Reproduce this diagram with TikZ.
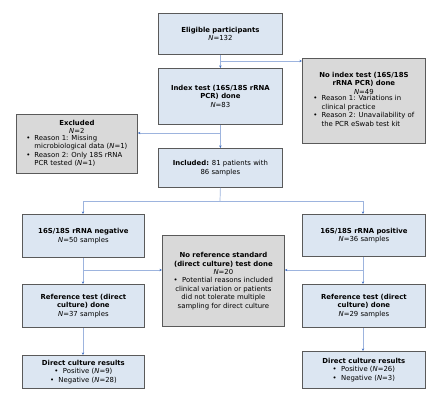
\documentclass[tikz,border=0pt]{standalone}
\usepackage{fontspec}
\setmainfont{DejaVu Sans}
\usetikzlibrary{arrows.meta}
\definecolor{bluefill}{HTML}{DCE6F2}
\definecolor{greyfill}{HTML}{D9D9D9}
\definecolor{boxline}{HTML}{5A5A5A}
\definecolor{conn}{HTML}{9DB4DE}
\definecolor{tipc}{HTML}{4472C4}
\newcommand{\fs}{\fontsize{6.9}{8.4}\selectfont}
\newcommand{\Nv}{\textit{N}}
\begin{document}
\begin{tikzpicture}[x=1pt,y=-1pt,
  box/.style={draw=boxline, line width=0.8pt, inner sep=0pt, align=center, font=\fs, anchor=north west},
  bluebox/.style={box, fill=bluefill},
  greybox/.style={box, fill=greyfill},
  conline/.style={draw=conn, line width=0.7pt},
  arr/.style={conline, -{Stealth[length=2.6pt,width=2.4pt,color=tipc]}}]
\useasboundingbox (0,0) rectangle (440,405);
\fill[white] (0,0) rectangle (440,405);

\node[bluebox, minimum width=124pt, minimum height=41pt] (elig) at (158,13)
  {\textbf{Eligible participants}\\ \Nv=132};
\node[bluebox, minimum width=124pt, minimum height=56pt] (index) at (158,68)
  {\textbf{Index test (16S/18S rRNA}\\ \textbf{PCR) done}\\ \Nv=83};
\node[greybox, minimum width=123pt, minimum height=85pt, text depth=16pt] (noidx) at (302,58)
  {\textbf{No index test (16S/18S}\\ \textbf{rRNA PCR) done}\\ \Nv=49\\[-0.2pt]
   \begin{tabular}{@{}l@{\hspace{4pt}}l@{}}
   • & Reason 1: Variations in\\
     & clinical practice\\
   • & Reason 2: Unavailability of\\
     & the PCR eSwab test kit
   \end{tabular}};
\node[greybox, minimum width=121pt, minimum height=59pt] (excl) at (16,114)
  {\textbf{Excluded}\\ \Nv=2\\[-0.2pt]
   \begin{tabular}{@{}l@{\hspace{4pt}}l@{}}
   • & Reason 1: Missing\\
     & microbiological data (\Nv=1)\\
   • & Reason 2: Only 18S rRNA\\
     & PCR tested (\Nv=1)
   \end{tabular}};
\node[bluebox, minimum width=124pt, minimum height=39pt] (incl) at (158,148)
  {\textbf{Included:} 81 patients with\\ 86 samples};
\node[bluebox, minimum width=122pt, minimum height=43pt] (neg) at (22,214)
  {\textbf{16S/18S rRNA negative}\\ \Nv=50 samples};
\node[bluebox, minimum width=123pt, minimum height=42pt] (pos) at (302,214)
  {\textbf{16S/18S rRNA positive}\\ \Nv=36 samples};
\node[greybox, minimum width=122pt, minimum height=91pt] (mid) at (162,235)
  {\textbf{No reference standard}\\ \textbf{(direct culture) test done}\\ \Nv=20\\
   • \ Potential reasons included\\ clinical variation or patients\\
   did not tolerate multiple\\ sampling for direct culture};
\node[bluebox, minimum width=122pt, minimum height=43pt] (refl) at (22,284)
  {\textbf{Reference test (direct}\\ \textbf{culture) done}\\ \Nv=37 samples};
\node[bluebox, minimum width=123pt, minimum height=43pt] (refr) at (302,284)
  {\textbf{Reference test (direct}\\ \textbf{culture) done}\\ \Nv=29 samples};
\node[bluebox, minimum width=122pt, minimum height=33pt] (resl) at (22,355)
  {\textbf{Direct culture results}\\ • \ Positive (\Nv=9)\\ • \ Negative (\Nv=28)};
\node[bluebox, minimum width=123pt, minimum height=37pt] (resr) at (302,351)
  {\textbf{Direct culture results}\\ • \ Positive (\Nv=26)\\ • \ Negative (\Nv=3)};

% connectors
\coordinate (b1) at (220,61);
\coordinate (b2) at (220,133);
\coordinate (b3) at (220,201);
\coordinate (bl) at (83,201);
\coordinate (br) at (363,201);
\coordinate (b4) at (83,270);
\coordinate (b5) at (363,270);

\draw[arr] (elig.south) -- (index.north);
\draw[arr] (b1) -- (noidx.west |- b1);
\draw[arr] (index.south) -- (incl.north);
\draw[arr] (b2) -- (excl.east |- b2);
\draw[conline] (incl.south) -- (b3);
\draw[conline] (bl) -- (br);
\draw[arr] (bl) -- (bl |- neg.north);
\draw[arr] (br) -- (br |- pos.north);
\draw[arr] (bl |- neg.south) -- (bl |- refl.north);
\draw[arr] (br |- pos.south) -- (br |- refr.north);
\draw[arr] (b4) -- (mid.west |- b4);
\draw[arr] (b5) -- (mid.east |- b5);
\draw[arr] (bl |- refl.south) -- (bl |- resl.north);
\draw[arr] (br |- refr.south) -- (br |- resr.north);
\end{tikzpicture}
\end{document}
